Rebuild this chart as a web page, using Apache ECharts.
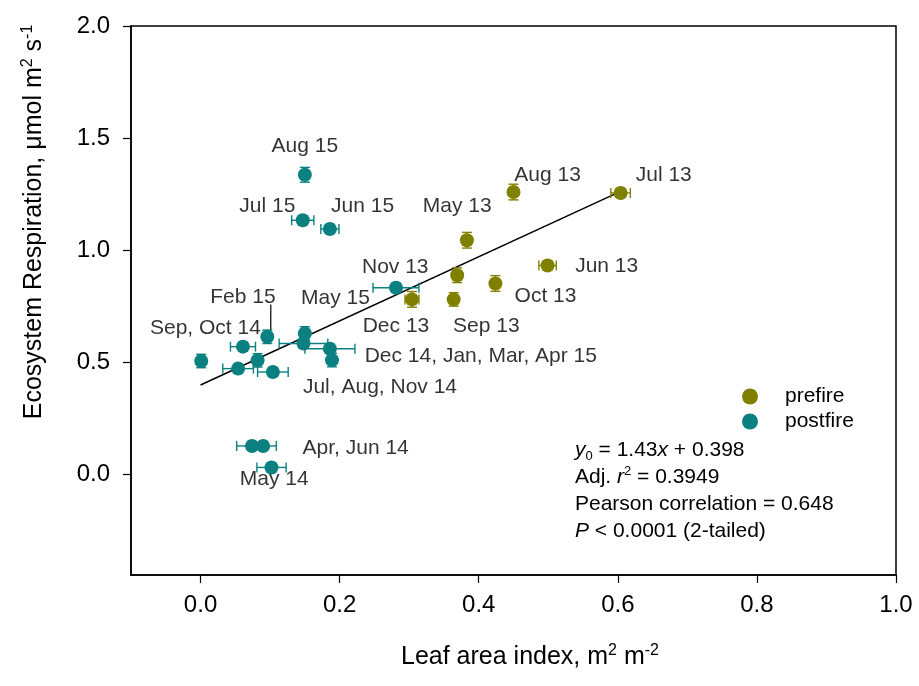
<!DOCTYPE html>
<html><head><meta charset="utf-8">
<script src="https://cdn.jsdelivr.net/npm/echarts@6/dist/echarts.min.js"></script>
<style>html,body{margin:0;padding:0;background:#fff}#c{width:919px;height:686px}</style>
</head><body><div id="c"></div>
<script>
// ---- data ----
const xTicks = [0.0, 0.2, 0.4, 0.6, 0.8, 1.0];
const yTicks = [0.0, 0.5, 1.0, 1.5, 2.0];

const prefireX    = [0.604, 0.450, 0.383, 0.499, 0.369, 0.424, 0.364, 0.304];
const prefireY    = [1.255, 1.259, 1.044, 0.931, 0.888, 0.851, 0.780, 0.780];
const prefireXErr = [0.014, 0.000, 0.000, 0.0125, 0.000, 0.000, 0.000, 0.010];
const prefireYErr = [0.020, 0.035, 0.035, 0.020, 0.033, 0.035, 0.030, 0.035];

const postfireX    = [0.150, 0.147, 0.186, 0.281, 0.096, 0.150, 0.148, 0.186, 0.189, 0.061, 0.001, 0.054, 0.082, 0.104, 0.074, 0.090, 0.102];
const postfireY    = [1.336, 1.133, 1.094, 0.832, 0.613, 0.628, 0.583, 0.560, 0.509, 0.569, 0.505, 0.471, 0.508, 0.456, 0.126, 0.126, 0.030];
const postfireXErr = [0.000, 0.016, 0.013, 0.033, 0.000, 0.000, 0.035, 0.036, 0.000, 0.018, 0.000, 0.022, 0.000, 0.022, 0.022, 0.019, 0.021];
const postfireYErr = [0.033, 0.020, 0.020, 0.020, 0.030, 0.030, 0.020, 0.020, 0.030, 0.020, 0.030, 0.020, 0.030, 0.020, 0.020, 0.020, 0.020];

const fitX = [0.0, 0.604];
const fitY = [0.398, 1.262];

const leaderX = [0.101, 0.101];
const leaderY = [0.757, 0.641];

const labelNames = ['Aug 15','Jul 15','Jun 15','May 13','Aug 13','Jul 13','Jun 13','Oct 13','Nov 13','May 15','Dec 13','Sep 13','Feb 15','Sep, Oct 14','Dec 14, Jan, Mar, Apr 15','Jul, Aug, Nov 14','Apr, Jun 14','May 14'];
const labelX = [0.150, 0.096, 0.233, 0.369, 0.499, 0.666, 0.584, 0.496, 0.280, 0.194, 0.281, 0.411, 0.061, 0.007, 0.403, 0.258, 0.223, 0.106];
const labelY = [1.462, 1.198, 1.198, 1.195, 1.332, 1.332, 0.928, 0.794, 0.922, 0.784, 0.659, 0.661, 0.790, 0.653, 0.526, 0.388, 0.114, -0.022];

// ---- chart ----
const FONT = '"Liberation Sans", Arial, sans-serif';
const OLIVE = '#808000';
const TEAL = '#0b8080';
const chart = echarts.init(document.getElementById('c'), null, {renderer: 'canvas'});

function pts(xs, ys) { return xs.map((x, i) => [x, ys[i]]); }
function errData(xs, ys, xe, ye) { return xs.map((x, i) => [x, ys[i], xe[i], ye[i]]); }
function errRender(color) {
  return function (params, api) {
    const x = api.value(0), y = api.value(1), xe = api.value(2), ye = api.value(3);
    const cap = 5;
    const st = {stroke: color, lineWidth: 1.4};
    const ch = [];
    if (xe > 0) {
      const l = api.coord([x - xe, y]), r = api.coord([x + xe, y]);
      ch.push({type: 'line', shape: {x1: l[0], y1: l[1], x2: r[0], y2: r[1]}, style: st});
      ch.push({type: 'line', shape: {x1: l[0], y1: l[1] - cap, x2: l[0], y2: l[1] + cap}, style: st});
      ch.push({type: 'line', shape: {x1: r[0], y1: r[1] - cap, x2: r[0], y2: r[1] + cap}, style: st});
    }
    if (ye > 0) {
      const t = api.coord([x, y + ye]), b = api.coord([x, y - ye]);
      ch.push({type: 'line', shape: {x1: t[0], y1: t[1], x2: b[0], y2: b[1]}, style: st});
      ch.push({type: 'line', shape: {x1: t[0] - cap, y1: t[1], x2: t[0] + cap, y2: t[1]}, style: st});
      ch.push({type: 'line', shape: {x1: b[0] - cap, y1: b[1], x2: b[0] + cap, y2: b[1]}, style: st});
    }
    return {type: 'group', children: ch};
  };
}

function richSet(size) {
  const s = Math.round(size * 0.64);
  return {
    n: {fontSize: size, fontFamily: FONT, color: '#000', lineHeight: size + 4},
    s: {fontSize: s, fontFamily: FONT, color: '#000', lineHeight: s, verticalAlign: 'top'},
    i: {fontSize: size, fontFamily: FONT, color: '#000', lineHeight: size + 4, fontStyle: 'italic'},
    sub: {fontSize: s, fontFamily: FONT, color: '#000', lineHeight: s, verticalAlign: 'bottom'}
  };
}
const titleRich = richSet(25);
const noteRich = richSet(21);

const option = {
  animation: false,
  backgroundColor: '#fff',
  grid: {left: 131, right: 23, top: 26, bottom: 111, show: true, borderColor: '#000', borderWidth: 1.5, backgroundColor: 'transparent'},
  xAxis: {
    type: 'value', min: -0.1, max: 1.0,
    axisLine: {show: true, onZero: false, lineStyle: {color: '#000', width: 1.5}},
    axisTick: {show: true, inside: false, length: 8, lineStyle: {color: '#000', width: 1.2}, customValues: xTicks},
    axisLabel: {customValues: xTicks, formatter: v => v.toFixed(1), fontSize: 24, fontFamily: FONT, color: '#000', margin: 18},
    splitLine: {show: false}
  },
  yAxis: {
    type: 'value', min: -0.45, max: 2.0,
    axisLine: {show: true, onZero: false, lineStyle: {color: '#000', width: 1.5}},
    axisTick: {show: true, inside: false, length: 8, lineStyle: {color: '#000', width: 1.2}, customValues: yTicks},
    axisLabel: {customValues: yTicks, formatter: v => v.toFixed(1), fontSize: 24, fontFamily: FONT, color: '#000', margin: 21},
    splitLine: {show: false}
  },
  legend: {
    orient: 'vertical', left: 742, top: 386, padding: 0,
    itemWidth: 16, itemHeight: 16, itemGap: 4,
    data: [{name: 'prefire', icon: 'circle'}, {name: 'postfire', icon: 'circle'}],
    textStyle: {fontSize: 21, fontFamily: FONT, color: '#000', padding: [0, 0, 0, 22]}
  },
  graphic: [
    {type: 'text', x: 34, y: 222, rotation: Math.PI / 2, silent: true,
     style: {text: '{n|Ecosystem Respiration, μmol m}{s|2}{n| s}{s|-1}', rich: titleRich, align: 'center', verticalAlign: 'middle'}},
    {type: 'text', x: 530, y: 657, silent: true,
     style: {text: '{n|Leaf area index, m}{s|2}{n| m}{s|-2}', rich: titleRich, align: 'center', verticalAlign: 'middle'}},
    {type: 'text', x: 575, y: 450, silent: true,
     style: {text: '{i|y}{sub|0}{n| = 1.43}{i|x}{n| + 0.398}', rich: noteRich, align: 'left', verticalAlign: 'middle'}},
    {type: 'text', x: 575, y: 477, silent: true,
     style: {text: '{n|Adj. }{i|r}{s|2}{n| = 0.3949}', rich: noteRich, align: 'left', verticalAlign: 'middle'}},
    {type: 'text', x: 575, y: 504, silent: true,
     style: {text: '{n|Pearson correlation = 0.648}', rich: noteRich, align: 'left', verticalAlign: 'middle'}},
    {type: 'text', x: 575, y: 531, silent: true,
     style: {text: '{i|P}{n| < 0.0001 (2-tailed)}', rich: noteRich, align: 'left', verticalAlign: 'middle'}}
  ],
  series: [
    {name: 'fit', type: 'line', data: pts(fitX, fitY), symbol: 'none', silent: true,
     lineStyle: {color: '#000', width: 1.5}, z: 3},
    {name: 'leader', type: 'line', data: pts(leaderX, leaderY), symbol: 'none', silent: true,
     lineStyle: {color: '#000', width: 1.2}, z: 3},
    {name: 'prefireErr', type: 'custom', data: errData(prefireX, prefireY, prefireXErr, prefireYErr),
     renderItem: errRender(OLIVE), encode: {x: 0, y: 1}, silent: true, z: 4},
    {name: 'postfireErr', type: 'custom', data: errData(postfireX, postfireY, postfireXErr, postfireYErr),
     renderItem: errRender(TEAL), encode: {x: 0, y: 1}, silent: true, z: 4},
    {name: 'prefire', type: 'scatter', data: pts(prefireX, prefireY), symbol: 'circle', symbolSize: 14,
     itemStyle: {color: OLIVE, opacity: 1}, z: 5},
    {name: 'postfire', type: 'scatter', data: pts(postfireX, postfireY), symbol: 'circle', symbolSize: 14,
     itemStyle: {color: TEAL, opacity: 1}, z: 5},
    {name: 'labels', type: 'scatter', symbolSize: 1, silent: true, z: 6,
     itemStyle: {color: 'rgba(0,0,0,0)'},
     data: labelNames.map((n, i) => ({name: n, value: [labelX[i], labelY[i]]})),
     label: {show: true, position: 'inside', formatter: '{b}', color: '#000', fontSize: 21, fontFamily: FONT}}
  ]
};
chart.setOption(option);
</script>
</body></html>
